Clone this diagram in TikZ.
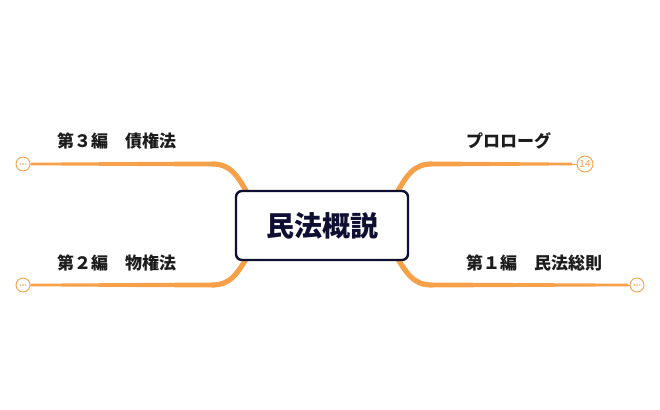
\documentclass[tikz,border=0pt]{standalone}
\usepackage{fontspec}
\usetikzlibrary{backgrounds}
\newfontfamily\jp{Noto Sans CJK JP}
\definecolor{br}{RGB}{246,161,74}
\definecolor{navy}{RGB}{14,15,50}
\definecolor{ink}{RGB}{28,28,28}
\tikzset{
  lbl/.style={anchor=west, inner sep=0pt, text=ink, font=\jp\bfseries\fontsize{17}{19}\selectfont},
  endc/.style={circle, draw=br, line width=0.9pt, fill=white, minimum size=14pt, inner sep=0pt},
  curv/.style={draw=br, line width=5.2pt},
  thin/.style={draw=br, line width=1pt},
  central/.style={draw=navy, line width=2.4pt, rounded corners=6pt, fill=white, minimum width=172pt, minimum height=69pt, inner sep=0pt, text=navy, font=\jp\bfseries\fontsize{28}{30}\selectfont}
}
\begin{document}
\begin{tikzpicture}[x=1pt,y=-1pt]
\useasboundingbox (0,0) rectangle (660,409);
% coordinates where curves meet the straight parts
\coordinate (tlj) at (212,164);
\coordinate (blj) at (212,285);
\coordinate (trj) at (432,164);
\coordinate (brj) at (432,285);
\coordinate (tle) at (31,164);
\coordinate (ble) at (31,285);
\coordinate (tre) at (572,164);
\coordinate (bre) at (628,285);
% end circles
\node[endc] (c3) at (23,164) {};
\node[endc] (c2) at (23,285) {};
\node[endc] (c1) at (637,285) {};
\node[endc, minimum size=16pt, text=br, font=\jp\fontsize{10}{10}\selectfont] (c0) at (585,164) {14};
\foreach \c in {c3,c2,c1}{
  \fill[br] (\c.center) circle (0.8pt);
  \fill[br] ([xshift=-2.8pt]\c.center) circle (0.8pt);
  \fill[br] ([xshift=2.8pt]\c.center) circle (0.8pt);
}
% central node
\node[central] (root) at (322,225.5) {民法概説};
\begin{pgfonlayer}{background}
% tapered straight parts
\fill[br] ([yshift=-2.5pt]tlj) -- ([yshift=-1.3pt]tle) -- ([yshift=1.3pt]tle) -- ([yshift=2.5pt]tlj) -- cycle;
\fill[br] ([yshift=-2.5pt]blj) -- ([yshift=-1.3pt]ble) -- ([yshift=1.3pt]ble) -- ([yshift=2.5pt]blj) -- cycle;
\fill[br] ([yshift=-2.5pt]trj) -- ([yshift=-1.3pt]tre) -- ([yshift=1.3pt]tre) -- ([yshift=2.5pt]trj) -- cycle;
\fill[br] ([yshift=-2.5pt]brj) -- ([yshift=-1.3pt]bre) -- ([yshift=1.3pt]bre) -- ([yshift=2.5pt]brj) -- cycle;
\draw[thin] (tle) -- (c3.west);
\draw[thin] (ble) -- (c2.west);
\draw[thin] (tre) -- (c0.west);
\draw[thin] (bre) -- (c1.east);
% curves
\draw[curv] (tlj) .. controls (230,164) and (237,174) .. (250,198);
\draw[curv] (blj) .. controls (230,285) and (237,275) .. (250,252);
\draw[curv] (trj) .. controls (414,164) and (407,174) .. (394,198);
\draw[curv] (brj) .. controls (414,285) and (407,275) .. (394,252);
\end{pgfonlayer}
% labels
\node[lbl] (l3) at (57,141) {第３編　債権法};
\node[lbl] (l2) at (57,263) {第２編　物権法};
\node[lbl] (l0) at (466,141) {プロローグ};
\node[lbl] (l1) at (466,263) {第１編　民法総則};
\end{tikzpicture}
\end{document}
